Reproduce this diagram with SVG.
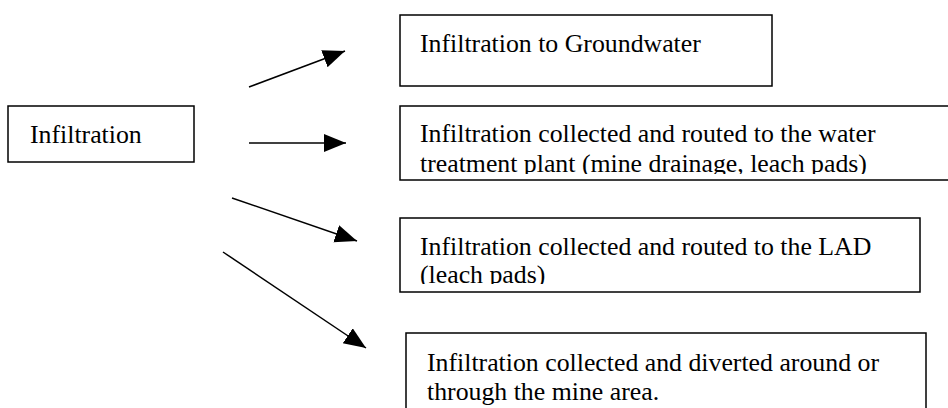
<svg xmlns="http://www.w3.org/2000/svg" width="948" height="408" viewBox="0 0 948 408">
<style>
.box{fill:#fff;stroke:#000;stroke-width:1.5}
.t{font-family:"Liberation Serif","Times New Roman",serif;font-size:25.8px;fill:#000}
.c{stroke:#000;stroke-width:1.5;fill:none;marker-end:url(#ah)}
</style>
<defs>
<marker id="ah" markerUnits="userSpaceOnUse" markerWidth="24" markerHeight="20" refX="22" refY="9" orient="auto">
<path d="M0,0 L22,9 L0,18 z" fill="#000"/>
</marker>
<clipPath id="c3"><rect x="400" y="106" width="560" height="68"/></clipPath>
<clipPath id="c4"><rect x="400" y="218" width="520" height="66"/></clipPath>
</defs>
<rect width="948" height="408" fill="#fff"/>
<g id="n-infiltration">
<rect class="box" x="8" y="106" width="186" height="56"/>
<text class="t" x="30" y="143">Infiltration</text>
</g>
<g id="n-groundwater">
<rect class="box" x="400" y="15" width="372" height="71"/>
<text class="t" x="420" y="52">Infiltration to Groundwater</text>
</g>
<g id="n-wtp">
<rect class="box" x="400" y="106" width="560" height="74"/>
<g clip-path="url(#c3)">
<text class="t" x="420" y="142">Infiltration collected and routed to the water</text>
<text class="t" x="420" y="171.5">treatment plant (mine drainage, leach pads)</text>
</g>
</g>
<g id="n-lad">
<rect class="box" x="400" y="218" width="520" height="74"/>
<g clip-path="url(#c4)">
<text class="t" x="420" y="255">Infiltration collected and routed to the LAD</text>
<text class="t" x="420" y="283">(leach pads)</text>
</g>
</g>
<g id="n-diverted">
<rect class="box" x="406" y="333" width="520" height="90"/>
<text class="t" x="427" y="370.5">Infiltration collected and diverted around or</text>
<text class="t" x="427" y="399.5">through the mine area.</text>
</g>
<g id="connectors">
<line class="c" x1="249" y1="87" x2="345" y2="51"/>
<line class="c" x1="249" y1="143" x2="346" y2="143"/>
<line class="c" x1="232" y1="198" x2="357" y2="241"/>
<line class="c" x1="223" y1="252" x2="366" y2="348"/>
</g>
</svg>
